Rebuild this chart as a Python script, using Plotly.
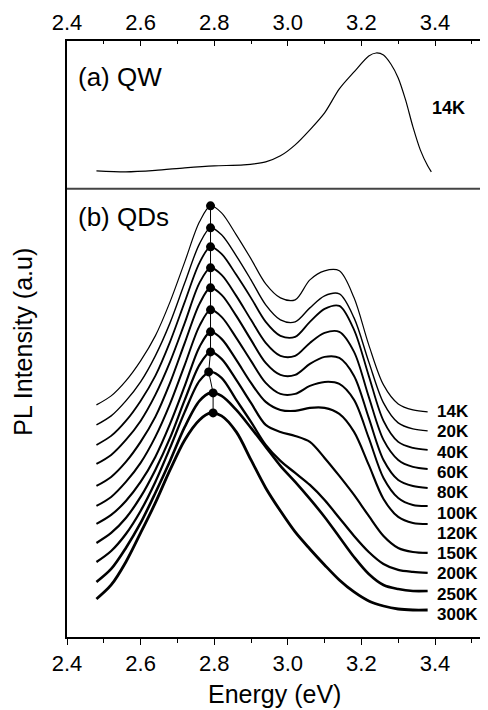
import plotly.graph_objects as go
from plotly.subplots import make_subplots

# ---------------- data ----------------
# (a) QW spectrum, 14K
qw_energy = [2.48, 2.56, 2.64, 2.72, 2.80, 2.88, 2.94, 2.98, 3.02, 3.06, 3.10, 3.14,
             3.18, 3.22, 3.24, 3.26, 3.28, 3.30, 3.32, 3.34, 3.36, 3.38, 3.39]
qw_intensity = [18, 17, 18.5, 21, 23, 24, 27, 33, 44, 59, 76, 100,
                117, 133, 136, 134, 125, 111, 89, 62, 39, 23, 17]
qw_label = "14K"

# (b) QDs spectra (offset for clarity), one list per temperature
qd_energy = [2.48, 2.52, 2.56, 2.60, 2.64, 2.68, 2.72, 2.76, 2.79, 2.82, 2.86, 2.90,
             2.94, 2.98, 3.02, 3.06, 3.10, 3.14, 3.18, 3.22, 3.26, 3.30, 3.34, 3.38]
qd_14K = [232, 241, 256, 276, 301, 335, 375, 415, 431, 424, 402, 378,
          353, 339, 337, 357, 366, 366, 339, 292, 252, 233, 227, 225]
qd_20K = [212, 221, 236, 255, 281, 314, 354, 393, 409, 402, 381, 357,
          332, 317, 315, 329, 341, 343, 319, 275, 234, 214, 208, 206]
qd_40K = [192, 201, 216, 236, 261, 295, 335, 374, 390, 383, 362, 339,
          315, 301, 300, 315, 328, 331, 307, 261, 216, 195, 189, 187]
qd_60K = [173, 182, 197, 216, 242, 275, 314, 354, 369, 362, 341, 317,
          294, 281, 281, 294, 304, 305, 285, 240, 197, 177, 170, 168]
qd_80K = [151, 160, 175, 195, 220, 254, 294, 333, 349, 342, 321, 297,
          274, 262, 262, 273, 280, 279, 261, 219, 177, 157, 151, 149]
qd_100K = [131, 140, 155, 174, 200, 233, 272, 311, 327, 320, 299, 276,
           254, 243, 243, 251, 255, 253, 237, 199, 159, 139, 132, 131]
qd_120K = [113, 122, 136, 155, 180, 213, 251, 290, 305, 298, 277, 254,
           235, 227, 226, 229, 229, 223, 205, 172, 138, 120, 114, 113]
qd_150K = [94, 104, 119, 140, 167, 199, 237, 272, 285, 278, 257, 234,
           212, 205, 201, 195, 179, 161, 142, 121, 101, 89, 85, 84]
qd_200K = [75, 86, 103, 126, 155, 189, 225, 256, 265, 259, 237, 215,
           192, 176, 164, 152, 137, 119, 101, 85, 73, 67, 65, 64]
qd_250K = [55, 68, 89, 114, 144, 176, 210, 236, 244, 241, 227, 209,
           190, 171, 155, 138, 120, 100, 80, 63, 52, 48, 46, 46]
qd_300K = [38, 52, 75, 104, 134, 167, 197, 217, 224, 221, 205, 177,
           149, 126, 105, 88, 72, 57, 45, 36, 31, 28, 27, 27]

temps = ["14K", "20K", "40K", "60K", "80K", "100K", "120K", "150K", "200K", "250K", "300K"]
qd_series = [qd_14K, qd_20K, qd_40K, qd_60K, qd_80K, qd_100K,
             qd_120K, qd_150K, qd_200K, qd_250K, qd_300K]
label_level = [225, 205, 184, 164, 144, 123, 103, 83, 63, 42, 22]

# peak positions (dots)
peak_energy = [2.79, 2.79, 2.79, 2.79, 2.79, 2.79, 2.79, 2.79, 2.785, 2.797, 2.797]
peak_intensity = [431, 409, 390, 369, 349, 327, 305, 285, 265, 244, 224]

x_ticks = [2.4, 2.6, 2.8, 3.0, 3.2, 3.4]
x_tick_text = ["2.4", "2.6", "2.8", "3.0", "3.2", "3.4"]

# ---------------- figure ----------------
FONT = "Liberation Sans, Arial, sans-serif"
X_RANGE = [2.4, 3.544]

fig = make_subplots(rows=2, cols=1, shared_xaxes=False, vertical_spacing=0,
                    row_heights=[0.248, 0.752])

fig.add_trace(go.Scatter(x=qw_energy, y=qw_intensity, mode="lines",
                         line=dict(color="black", width=1.2, shape="spline", smoothing=0.8),
                         showlegend=False, hoverinfo="skip"), row=1, col=1)

widths = [1.2, 1.4, 1.8, 1.9, 2.0, 2.0, 2.1, 2.2, 2.3, 2.6, 2.8]
for name, ys, w in zip(temps, qd_series, widths):
    fig.add_trace(go.Scatter(x=qd_energy, y=ys, mode="lines", name=name,
                             line=dict(color="black", width=w, shape="spline", smoothing=0.9),
                             showlegend=False), row=2, col=1)

fig.add_trace(go.Scatter(x=peak_energy, y=peak_intensity, mode="lines+markers",
                         line=dict(color="black", width=1),
                         marker=dict(color="black", size=9),
                         showlegend=False), row=2, col=1)

# temperature labels
for t, lv in zip(temps, label_level):
    fig.add_annotation(x=3.403, y=lv, xref="x2", yref="y2", text="<b>%s</b>" % t,
                       showarrow=False, xanchor="left", yanchor="middle", borderpad=0,
                       font=dict(family=FONT, size=17, color="black"))

fig.add_annotation(x=3.386, y=81, xref="x", yref="y", text="<b>%s</b>" % qw_label,
                   showarrow=False, xanchor="left", yanchor="middle",
                   font=dict(family=FONT, size=18, color="black"))
fig.add_annotation(x=2.425, y=112, xref="x", yref="y", text="(a) QW",
                   showarrow=False, xanchor="left", yanchor="middle",
                   font=dict(family=FONT, size=26, color="black"))
fig.add_annotation(x=2.425, y=420, xref="x2", yref="y2", text="(b) QDs",
                   showarrow=False, xanchor="left", yanchor="middle",
                   font=dict(family=FONT, size=26, color="black"))

# axis titles
fig.add_annotation(x=-0.105, y=0.495, xref="paper", yref="paper", text="PL Intensity (a.u)",
                   textangle=-90, showarrow=False, xanchor="center", yanchor="middle",
                   borderpad=0, font=dict(family=FONT, size=25, color="black"))
fig.add_annotation(x=0.494, y=-0.096, xref="paper", yref="paper", text="Energy (eV)",
                   showarrow=False, xanchor="center", yanchor="middle",
                   borderpad=0, font=dict(family=FONT, size=25, color="black"))

axis_common = dict(range=X_RANGE, tickvals=x_ticks, ticktext=x_tick_text,
                   showgrid=False, zeroline=False, showline=True, linecolor="black",
                   linewidth=2, tickcolor="black", tickwidth=1,
                   tickfont=dict(family=FONT, size=22, color="black"))
# top panel: axis on top, ticks inside
fig.update_xaxes(row=1, col=1, side="top", ticks="inside", ticklen=5,
                 minor=dict(dtick=0.1, tick0=2.4, ticks="inside", ticklen=3,
                            tickcolor="black", tickwidth=1),
                 **axis_common)
# bottom panel: axis at bottom, ticks outside
fig.update_xaxes(row=2, col=1, side="bottom", ticks="outside", ticklen=6,
                 minor=dict(dtick=0.1, tick0=2.4, ticks="outside", ticklen=4,
                            tickcolor="black", tickwidth=1),
                 **axis_common)

fig.update_yaxes(row=1, col=1, range=[0, 148], showticklabels=False, ticks="",
                 showgrid=False, zeroline=False, showline=True, linecolor="black", linewidth=2)
fig.update_yaxes(row=2, col=1, range=[0, 448], showticklabels=False, ticks="",
                 showgrid=False, zeroline=False, showline=True, linecolor="black", linewidth=2)

# separator between panels
fig.add_shape(type="line", xref="paper", yref="paper", x0=0, x1=1, y0=0.752, y1=0.752,
              line=dict(color="#444444", width=2))

# page has an 8px body margin: figure placed so the plot lands where the reference has it
fig.update_layout(width=480, height=702, margin=dict(l=59, r=0, t=33, b=73),
                  paper_bgcolor="white", plot_bgcolor="white",
                  font=dict(family=FONT, color="black"))

fig.write_html("out.html")
